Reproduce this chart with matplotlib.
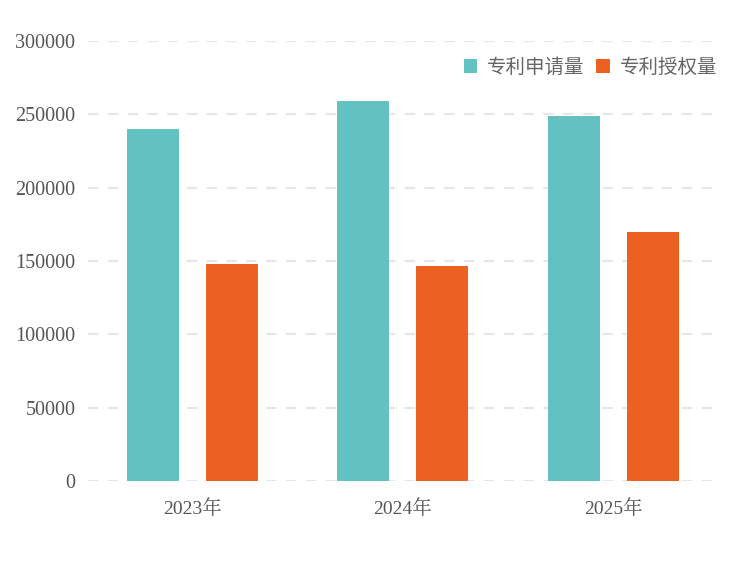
import matplotlib
matplotlib.use("Agg")
import matplotlib.pyplot as plt
import numpy as np

years = ["2023年", "2024年", "2025年"]
applications = [240000, 259000, 249000]
grants = [148000, 146500, 170000]
series_names = ["专利申请量", "专利授权量"]
yticks = [0, 50000, 100000, 150000, 200000, 250000, 300000]

teal = "#63C2C1"
orange = "#EC6121"
text_color = "#555555"
num_font = ["Liberation Serif", "Noto Serif CJK SC", "Noto Sans CJK SC"]
cjk_font = ["Noto Sans CJK SC", "DejaVu Sans"]

fig = plt.figure(figsize=(7.5, 5.62), dpi=100)
ax = fig.add_axes([88 / 750, 1 - 481 / 562, (715 - 88) / 750, (481 - 41) / 562])

x = np.arange(len(years))
w = 0.247
off = 0.1876
b1 = ax.bar(x - off, applications, w, color=teal, zorder=3, label=series_names[0])
b2 = ax.bar(x + off, grants, w, color=orange, zorder=3, label=series_names[1])

ax.set_ylim(0, 300000)
ax.set_xlim(-0.496, 2.482)
ax.set_yticks(yticks)
ax.set_yticklabels([str(v) for v in yticks], family=num_font, fontsize=14.5, color=text_color)
ax.set_xticks(x)
ax.set_xticklabels(years, family=num_font, fontsize=14, color=text_color)
ax.tick_params(axis="both", length=0)
ax.tick_params(axis="y", pad=9)
ax.tick_params(axis="x", pad=13)

ax.yaxis.grid(True, color="#E6E6E6", linestyle=(0, (5, 4.5)), linewidth=1.5, zorder=0)
for s in ax.spines.values():
    s.set_visible(False)

fig.legend(handles=[b1, b2], labels=series_names, loc="center right",
           bbox_to_anchor=(717 / 750, 1 - 67 / 562), ncol=2, frameon=False,
           prop={"family": cjk_font, "size": 14, "weight": "light"},
           labelcolor="#666666", handlelength=0.7, handleheight=0.7,
           handletextpad=0.5, columnspacing=0.6, borderpad=0, borderaxespad=0)

fig.savefig("out.png", dpi=100)
